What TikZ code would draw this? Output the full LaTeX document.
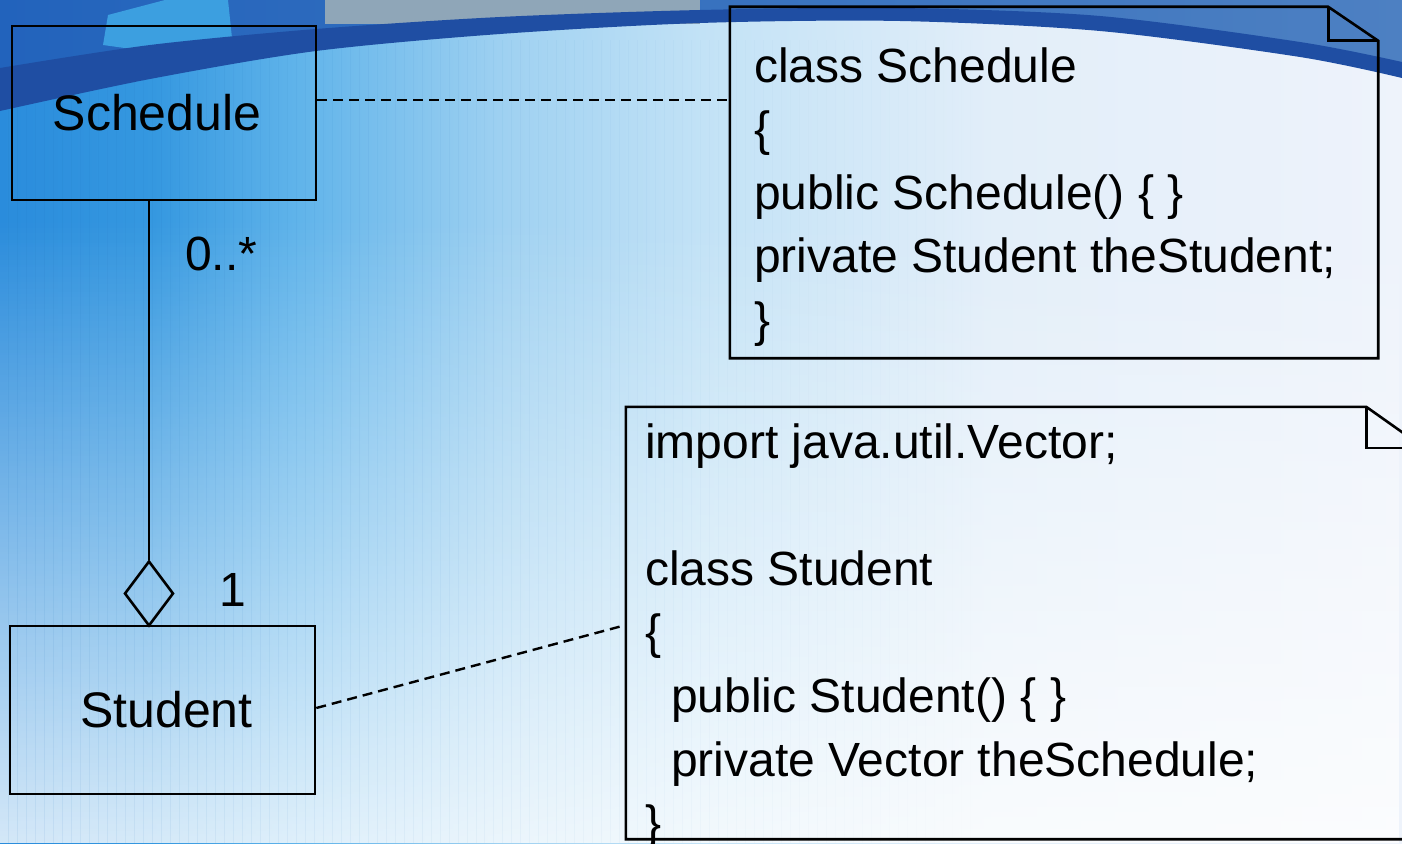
\documentclass[tikz,border=0pt]{standalone}
\usepackage{fontspec}
\setmainfont{Liberation Sans}
\usetikzlibrary{fadings,shapes.geometric}

% slide background colours
\definecolor{bgA}{HTML}{2A8CDC}
\definecolor{bgB}{HTML}{3598E0}
\definecolor{bgC}{HTML}{5FB3EA}
\definecolor{bgD}{HTML}{9FD1F1}
\definecolor{bgE}{HTML}{C2E2F6}
\definecolor{bgF}{HTML}{E2EEF9}
\definecolor{bgG}{HTML}{EEF3FB}
\definecolor{topL}{HTML}{2263BC}
\definecolor{topR}{HTML}{4D80C2}
\definecolor{bandblue}{HTML}{1F4EA3}
\definecolor{graytile}{HTML}{8FA6B8}
\definecolor{cyantile}{HTML}{3C9FE0}
\definecolor{gridblue}{HTML}{1A6BB5}

% the path's width maps onto 25bp..75bp of the shading
\pgfdeclarehorizontalshading{slidebg}{100bp}{color(0bp)=(bgA); color(25bp)=(bgA); color(30.5bp)=(bgB); color(35.5bp)=(bgC); color(43bp)=(bgD); color(50bp)=(bgE); color(60.5bp)=(bgF); color(75bp)=(bgG); color(100bp)=(bgG)}

\begin{document}
\begin{tikzpicture}[x=1pt, y=-1pt,
  classbox/.style={draw=black, line width=2.6pt, inner sep=0pt,
    font=\fontsize{50}{60}\selectfont},
  notebox/.style={inner sep=0pt},
  noteline/.style={draw=black, line width=2.6pt, line join=miter},
  codetext/.style={inner sep=0pt, anchor=base west,
    font=\fontsize{48}{63.6}\selectfont},
  multlabel/.style={inner sep=0pt, anchor=base west,
    font=\fontsize{48}{58}\selectfont},
  assoc/.style={draw=black, line width=2.6pt},
  dep/.style={draw=black, line width=2.4pt, dash pattern=on 10pt off 6pt},
  aggr/.style={diamond, draw=black, line width=2.6pt, inner sep=0pt,
    minimum width=49pt, minimum height=65pt}]

\useasboundingbox (0,0) rectangle (1402,843);
\begin{scope}
\clip (0,0) rectangle (1402,843);

% ---- background ----
\shade[shading=slidebg] (0,0) rectangle (1402,843);
\fill[white, path fading=north, fill opacity=0.8] (0,220) rectangle (1402,843);
\draw[gridblue, line width=0.6pt, opacity=0.08, path fading=east]
  (0,40) grid[step=9] (1000,843);

% header band
\shade[left color=topL, right color=topR]
  (0,0) -- (1402,0) -- plot[smooth] coordinates
  {(1402,77) (1300,56) (1100,30) (900,20) (700,22) (500,33) (316,50) (150,78) (0,110)}
  -- cycle;
\fill[graytile] (325,0) rectangle (700,24);
\fill[cyantile] (103,45) -- (108,15) -- (165,0) -- (228,0) -- (232,38) -- (175,55) -- cycle;
\fill[bandblue] plot[smooth] coordinates
  {(0,111) (150,79) (316,51) (500,34) (700,23) (900,21) (1100,31) (1300,57) (1402,78)}
  -- plot[smooth] coordinates
  {(1402,62) (1300,42) (1100,16) (900,8) (700,10) (500,17) (316,29) (150,45) (0,68)}
  -- cycle;

% ---- classes ----
\node[classbox, minimum width=304pt, minimum height=174pt] (schedule) at (164,113) {Schedule\kern14pt};
\node[classbox, minimum width=305pt, minimum height=168pt] (student) at (162.5,710) {\kern8pt Student};

% aggregation
\node[aggr] (agg) at (149,593.5) {};
\draw[assoc] (schedule.south -| agg.north) -- (agg.north);
\node[multlabel] (multmany) at (185,270) {0..*};
\node[multlabel] (multone) at (219,606) {1};

% ---- note: Schedule code ----
\node[notebox, minimum width=648pt, minimum height=351pt] (note1) at (1054,182.5) {};
\draw[noteline] (note1.north west) -- ([xshift=-50pt]note1.north east)
  -- ([yshift=-34pt]note1.north east) -- (note1.south east)
  -- (note1.south west) -- cycle;
\draw[noteline] ([xshift=-50pt]note1.north east) |- ([yshift=-34pt]note1.north east);
\node[codetext] (code1) at (754,82) {\vtop{%
  \hbox{class Schedule}
  \hbox{\{}
  \hbox{public Schedule() \{ \}}
  \hbox{private Student theStudent;}
  \hbox{\}}}};

% ---- note: Student code ----
\node[notebox, minimum width=798pt, minimum height=432pt] (note2) at (1025,623) {};
\draw[noteline] (note2.north west) -- ([xshift=-58pt]note2.north east)
  -- ([yshift=-41pt]note2.north east) -- (note2.south east)
  -- (note2.south west) -- cycle;
\draw[noteline] ([xshift=-58pt]note2.north east) |- ([yshift=-41pt]note2.north east);
\node[codetext] (code2) at (645,458) {\vtop{%
  \hbox{import java.util.Vector;}
  \hbox{}
  \hbox{class Student}
  \hbox{\{}
  \hbox{\kern26pt public Student() \{ \}}
  \hbox{\kern26pt private Vector theSchedule;}
  \hbox{\}}}};

% ---- note attachments ----
\draw[dep] ([yshift=13pt]schedule.east) -- ([yshift=82.5pt]note1.west);
\draw[dep] ([yshift=2pt]student.east) -- ([yshift=-2pt]note2.west);
\end{scope}
\end{tikzpicture}
\end{document}
